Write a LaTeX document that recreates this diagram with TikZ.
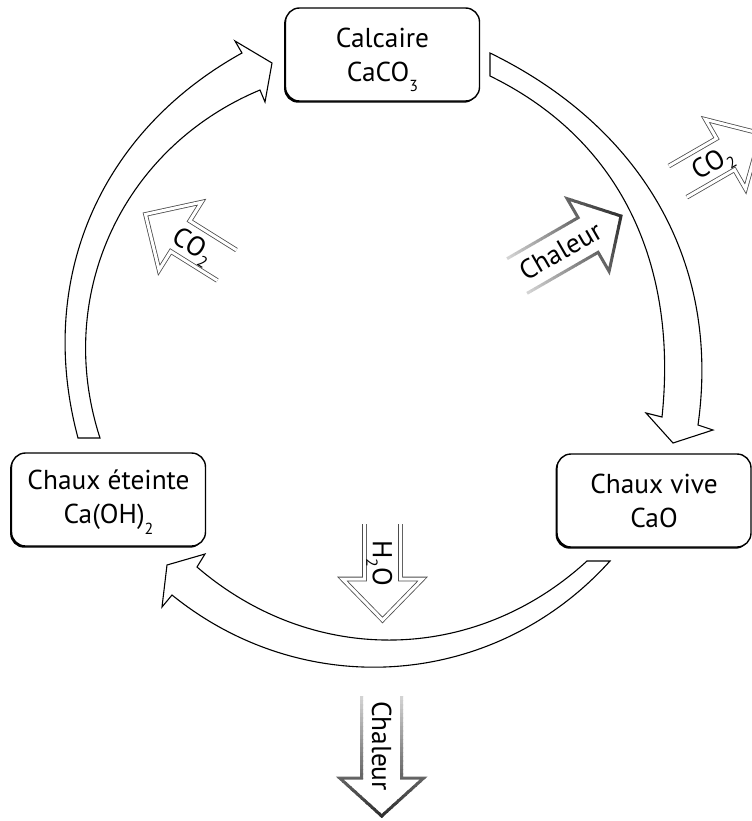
\documentclass[tikz,border=0pt]{standalone}
\usepackage{fontspec}
\setmainfont{PT Sans}
\usetikzlibrary{shadows}
\newcommand\mytxt{\fontsize{20.5}{25.5}\selectfont}
\newcommand\chemsub[1]{\smash{\raisebox{-8pt}{\fontsize{12}{12}\selectfont #1}}}
\newcommand\lblsub[1]{\smash{\raisebox{-5pt}{\fontsize{12}{12}\selectfont #1}}}
\def\px{0.75pt}
\begin{document}
\begin{tikzpicture}[x=0.75pt, y=0.75pt,
  box/.style={draw, fill=white, line width=1.4*\px, rounded corners=14*\px,
    minimum width=194*\px, minimum height=93*\px, inner sep=0pt, align=center, font=\mytxt,
    drop shadow={shadow xshift=-1.4*\px, shadow yshift=-1.7*\px, fill=black, opacity=1}},
  bigarrow/.style={draw=black, fill=white, line width=1.1*\px, line join=miter},
  hollow/.style={draw=black!70, line width=0.8*\px, double=white, double distance=3*\px, line join=miter},
  lbl/.style={font=\mytxt, inner sep=0pt, transform shape},
]
\path[use as bounding box] (0,0) rectangle (752,-821);
\clip (0,0) rectangle (752,-821);

% big cycle arrows
\draw[bigarrow] (78,-438) to[out=105, in=209] (242,-53) -- (235,-41) -- (272,-63)
  -- (265,-102) -- (260,-90) to[out=202.7, in=108] (100,-438) -- cycle;
\draw[bigarrow] (490,-53) to[out=-26, in=82] (698,-425) -- (713,-430) -- (673,-443)
  -- (646,-413) -- (662,-417) to[out=84, in=-26] (490,-76) -- cycle;
\draw[bigarrow] (610,-561) to[out=-132, in=-39] (172,-595) -- (162,-607) -- (167,-565)
  -- (205,-554) -- (197,-567) to[out=-40.7, in=-137.5] (587,-561) -- cycle;

% boxes
\node[box] (calc) at (382.5,-54.5) {Calcaire\\CaCO\chemsub{3}};
\node[box] (eteinte) at (108.5,-499.5) {Chaux éteinte\\Ca(OH)\chemsub{2}};
\node[box] (vive) at (654,-500.5) {Chaux vive\\CaO};

% hollow arrows
\begin{scope}[shift={(145.5,-214.4)}, rotate=148]
  \draw[hollow] (-96,18) -- (-41,18) -- (-41,40) -- (0,0) -- (-41,-40) -- (-41,-18) -- (-96,-18);
  \node[lbl, rotate=180] (co2a) at (-57,0) {CO\lblsub{2}};
\end{scope}
\begin{scope}[shift={(761,-133.6)}, rotate=30]
  \draw[hollow] (-96,18) -- (-41,18) -- (-41,40) -- (0,0) -- (-41,-40) -- (-41,-18) -- (-96,-18);
  \node[lbl] (co2b) at (-57,0) {CO\lblsub{2}};
\end{scope}
\begin{scope}[shift={(382.5,-620)}, rotate=-90]
  \draw[hollow] (-96,18) -- (-41,18) -- (-41,40) -- (0,0) -- (-41,-40) -- (-41,-18) -- (-96,-18);
  \node[lbl] (h2o) at (-57,0) {H\lblsub{2}O};
\end{scope}

% heat arrows (gradient stroke)
\begin{scope}[shift={(621,-216)}, rotate=30]
  \foreach \i in {0,...,29}{
    \pgfmathsetmacro\pc{15+68*\i/29}
    \begin{scope}
      \clip (-124+4.3*\i,-55) rectangle (-124+4.3*\i+4.6,55);
      \draw[line width=3*\px, draw=black!\pc, line join=miter] (-120,20) -- (-38,20) -- (-38,42) -- (0,0) -- (-38,-42) -- (-38,-20) -- (-120,-20);
    \end{scope}}
  \node[lbl] (heat1) at (-70,0) {Chaleur};
\end{scope}
\begin{scope}[shift={(381.7,-816)}, rotate=-90]
  \foreach \i in {0,...,29}{
    \pgfmathsetmacro\pc{15+68*\i/29}
    \begin{scope}
      \clip (-124+4.3*\i,-55) rectangle (-124+4.3*\i+4.6,55);
      \draw[line width=3*\px, draw=black!\pc, line join=miter] (-120,20) -- (-38,20) -- (-38,42) -- (0,0) -- (-38,-42) -- (-38,-20) -- (-120,-20);
    \end{scope}}
  \node[lbl] (heat2) at (-70,0) {Chaleur};
\end{scope}
\end{tikzpicture}
\end{document}
